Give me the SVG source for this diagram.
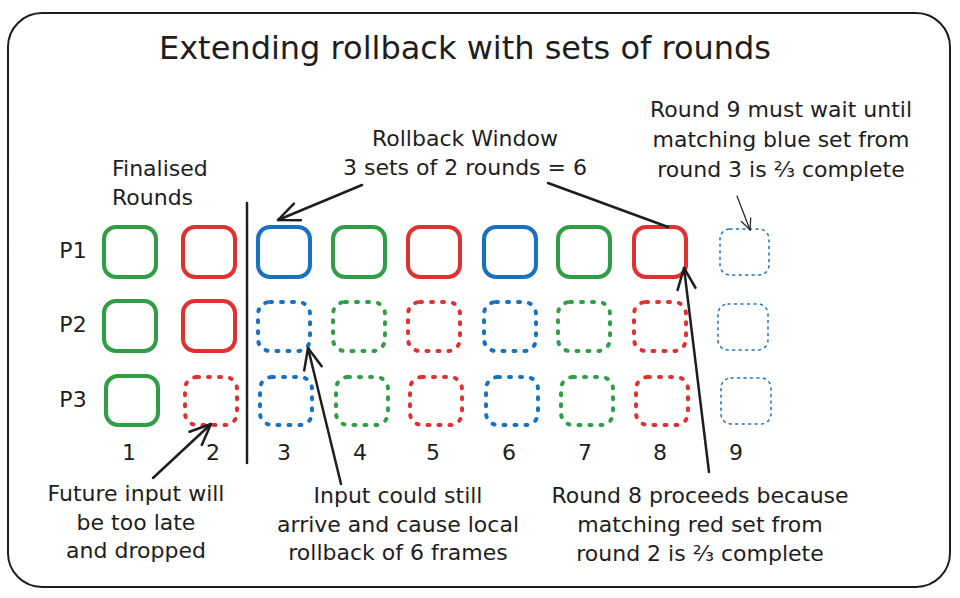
<svg xmlns="http://www.w3.org/2000/svg" width="960" height="598" viewBox="0 0 960 598">
<style>
text{font-family:"DejaVu Sans","Liberation Sans",sans-serif;fill:#1e1e1e;font-size:22px;text-anchor:middle}
.title{font-size:32px}
.left{text-anchor:start}
.box{fill:none;stroke-width:4;stroke-linejoin:round}
.dot{stroke-dasharray:2 9;stroke-linecap:round}
.thin{stroke-width:1.5;stroke-dasharray:2 4.5;stroke-linecap:round}
.g{stroke:#2f9e44}.r{stroke:#e03131}.b{stroke:#1971c2}
.ln{fill:none;stroke:#1e1e1e;stroke-width:2.5;stroke-linecap:round}
.tl{fill:none;stroke:#1e1e1e;stroke-width:1.2;stroke-linecap:round}
</style>
<defs>
<marker id="ah" markerUnits="userSpaceOnUse" markerWidth="26" markerHeight="26" viewBox="0 0 26 26" refX="23" refY="13" orient="auto">
<path d="M2,4 L23,13 L2,22" fill="none" stroke="#1e1e1e" stroke-width="2.5" stroke-linecap="round" stroke-linejoin="round"/>
</marker>
<marker id="ahs" markerUnits="userSpaceOnUse" markerWidth="14" markerHeight="14" viewBox="0 0 14 14" refX="12" refY="7" orient="auto">
<path d="M1,2 L12,7 L1,12" fill="none" stroke="#1e1e1e" stroke-width="1.2" stroke-linecap="round"/>
</marker>
</defs>
<rect x="0" y="0" width="960" height="598" fill="#ffffff"/>
<rect id="frame" x="8" y="13" width="942" height="574" rx="34" fill="none" stroke="#1e1e1e" stroke-width="2"/>
<text class="title" x="465" y="59">Extending rollback with sets of rounds</text>

<g id="label-finalised"><text class="left" x="112" y="176">Finalised</text><text class="left" x="112" y="205">Rounds</text></g>
<g id="label-window"><text x="465" y="146">Rollback Window</text><text x="465" y="175">3 sets of 2 rounds = 6</text></g>
<g id="label-round9"><text x="781" y="117">Round 9 must wait until</text><text x="781" y="147">matching blue set from</text><text x="781" y="177">round 3 is ⅔ complete</text></g>
<g id="label-p1"><text x="73" y="258">P1</text></g>
<g id="label-p2"><text x="73" y="332">P2</text></g>
<g id="label-p3"><text x="73" y="407">P3</text></g>
<g id="col-labels">
<text x="129" y="460">1</text><text x="213" y="460">2</text><text x="284" y="460">3</text><text x="360" y="460">4</text><text x="433" y="460">5</text><text x="509" y="460">6</text><text x="585" y="460">7</text><text x="660" y="460">8</text><text x="736" y="460">9</text>
</g>
<g id="label-future"><text x="136" y="501">Future input will</text><text x="136" y="530">be too late</text><text x="136" y="558">and dropped</text></g>
<g id="label-input"><text x="398" y="503">Input could still</text><text x="398" y="532">arrive and cause local</text><text x="398" y="560">rollback of 6 frames</text></g>
<g id="label-round8"><text x="700" y="503">Round 8 proceeds because</text><text x="700" y="532">matching red set from</text><text x="700" y="561">round 2 is ⅔ complete</text></g>

<g id="p1-r1"><rect class="box g" x="104" y="227" width="52" height="50" rx="12"/></g>
<g id="p1-r2"><rect class="box r" x="183" y="227" width="52" height="50" rx="12"/></g>
<g id="p1-r3"><rect class="box b" x="258" y="227" width="52" height="50" rx="12"/></g>
<g id="p1-r4"><rect class="box g" x="333" y="227" width="52" height="50" rx="12"/></g>
<g id="p1-r5"><rect class="box r" x="408" y="227" width="52" height="50" rx="12"/></g>
<g id="p1-r6"><rect class="box b" x="484" y="227" width="52" height="50" rx="12"/></g>
<g id="p1-r7"><rect class="box g" x="558" y="227" width="52" height="50" rx="12"/></g>
<g id="p1-r8"><rect class="box r" x="634" y="227" width="52" height="50" rx="12"/></g>
<g id="p1-r9"><rect class="box b thin" x="720" y="229" width="49" height="46" rx="10"/></g>

<g id="p2-r1"><rect class="box g" x="104" y="301" width="52" height="50" rx="12"/></g>
<g id="p2-r2"><rect class="box r" x="183" y="301" width="52" height="50" rx="12"/></g>
<g id="p2-r3"><rect class="box b dot" x="258" y="302" width="52" height="49" rx="12"/></g>
<g id="p2-r4"><rect class="box g dot" x="333" y="302" width="52" height="49" rx="12"/></g>
<g id="p2-r5"><rect class="box r dot" x="408" y="302" width="52" height="49" rx="12"/></g>
<g id="p2-r6"><rect class="box b dot" x="484" y="302" width="52" height="49" rx="12"/></g>
<g id="p2-r7"><rect class="box g dot" x="558" y="302" width="52" height="49" rx="12"/></g>
<g id="p2-r8"><rect class="box r dot" x="634" y="302" width="52" height="49" rx="12"/></g>
<g id="p2-r9"><rect class="box b thin" x="718" y="304" width="50" height="46" rx="10"/></g>

<g id="p3-r1"><rect class="box g" x="106" y="376" width="52" height="49" rx="12"/></g>
<g id="p3-r2"><rect class="box r dot" x="185" y="377" width="52" height="48" rx="12"/></g>
<g id="p3-r3"><rect class="box b dot" x="260" y="377" width="52" height="48" rx="12"/></g>
<g id="p3-r4"><rect class="box g dot" x="336" y="377" width="52" height="48" rx="12"/></g>
<g id="p3-r5"><rect class="box r dot" x="410" y="377" width="52" height="48" rx="12"/></g>
<g id="p3-r6"><rect class="box b dot" x="486" y="377" width="52" height="48" rx="12"/></g>
<g id="p3-r7"><rect class="box g dot" x="561" y="377" width="52" height="48" rx="12"/></g>
<g id="p3-r8"><rect class="box r dot" x="636" y="377" width="52" height="48" rx="12"/></g>
<g id="p3-r9"><rect class="box b thin" x="721" y="378" width="50" height="46" rx="10"/></g>

<g id="connectors">
<path class="ln" d="M247,203 L247,463"/>
<path class="ln" d="M362,185 L278,220" marker-end="url(#ah)"/>
<path class="ln" d="M548,183 L668,227"/>
<path class="tl" d="M737,196 L750,230" marker-end="url(#ahs)"/>
<path class="ln" d="M153,478 L211,424" marker-end="url(#ah)"/>
<path class="ln" d="M341,484 L308,348" marker-end="url(#ah)"/>
<path class="ln" d="M709,472 L684,268" marker-end="url(#ah)"/>
</g>
</svg>
